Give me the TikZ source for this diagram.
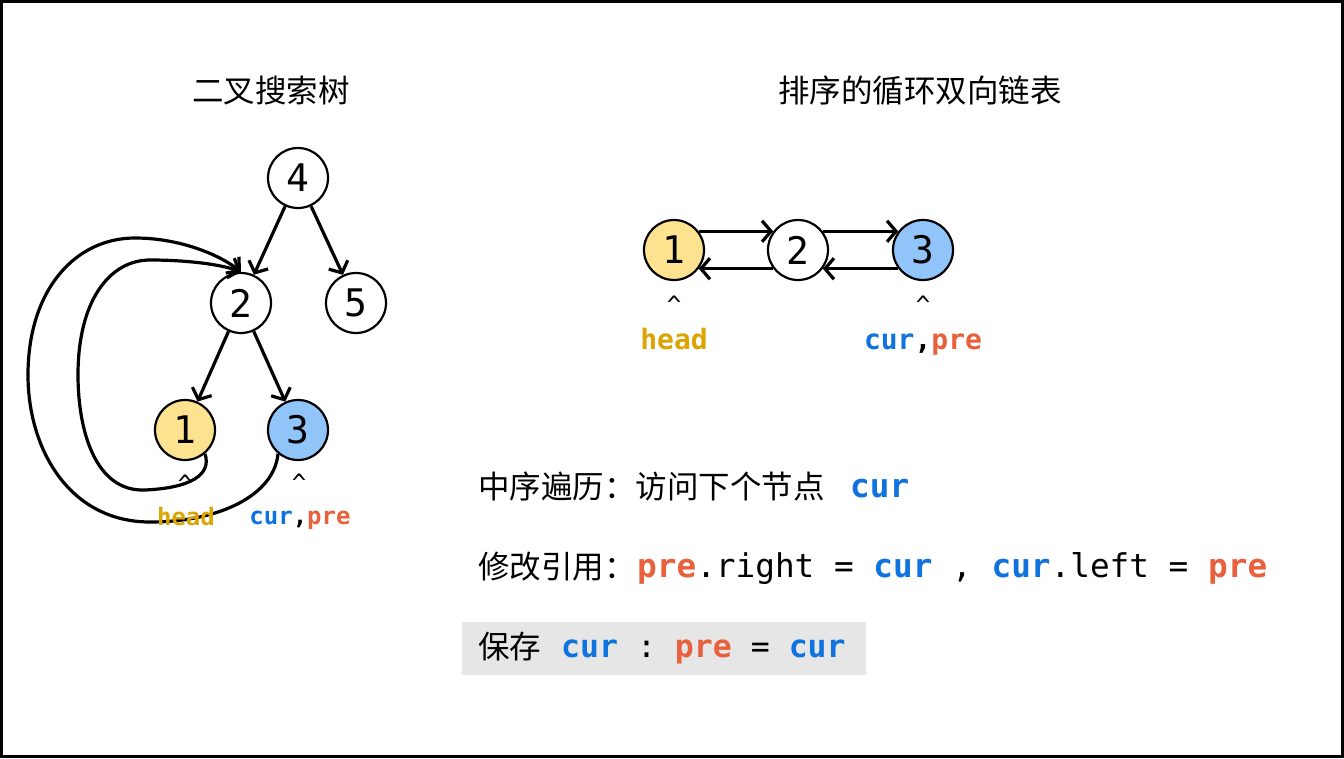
\documentclass[tikz,border=0pt]{standalone}
\usepackage{fontspec}
\setmainfont{Noto Sans CJK SC}
\setmonofont{DejaVu Sans Mono}
\usetikzlibrary{arrows.meta}
\definecolor{yel}{RGB}{253,227,143}
\definecolor{blu}{RGB}{145,197,250}
\definecolor{headc}{RGB}{219,164,0}
\definecolor{curc}{RGB}{14,115,222}
\definecolor{prec}{RGB}{232,96,60}
\definecolor{boxg}{RGB}{230,230,230}
\newcommand{\hd}{\textcolor{headc}{head}}
\newcommand{\cu}{\textcolor{curc}{cur}}
\newcommand{\pr}{\textcolor{prec}{pre}}
\tikzset{
  num/.style={circle, draw=black, line width=2.2pt, minimum size=60pt, inner sep=0pt, fill=white,
    font=\ttfamily\fontsize{38}{38}\selectfont},
  link/.style={line width=3.2pt, -{Straight Barb[length=9pt,width=21pt]}},
  zh/.style={font=\fontsize{31.5}{36}\selectfont, inner sep=0pt},
  code/.style={font=\ttfamily\fontsize{32.7}{36}\selectfont, inner sep=0pt},
  lblbig/.style={font=\ttfamily\bfseries\fontsize{28}{30}\selectfont, inner sep=0pt, anchor=base},
  lblsmall/.style={font=\ttfamily\bfseries\fontsize{24}{26}\selectfont, inner sep=0pt, anchor=base},
  caret/.style={font=\ttfamily\fontsize{24}{26}\selectfont, inner sep=0pt, anchor=base},
}
\begin{document}
\begin{tikzpicture}[x=1pt,y=-1pt]
\useasboundingbox (0,0) rectangle (1344,758);
\fill[white] (0,0) rectangle (1344,758);
\draw[line width=2.6pt] (1.3,1.3) rectangle (1342.7,756.7);

% titles
\node[zh] (t1) at (271,91) {二叉搜索树};
\node[zh] (t2) at (920,91) {排序的循环双向链表};

% tree
\node[num] (n4) at (298,178) {4};
\node[num] (n2) at (241,303) {2};
\node[num] (n5) at (356,303) {5};
\node[num, fill=yel] (n1) at (185,430) {1};
\node[num, fill=blu] (n3) at (298,430) {3};
\draw[link] (n4) -- (n2);
\draw[link] (n4) -- (n5);
\draw[link] (n2) -- (n1);
\draw[link] (n2) -- (n3);

\draw[link] (n1.-50) .. controls (212,475) and (190,488) .. (145,490)
  .. controls (95,492) and (78,430) .. (78,375)
  .. controls (78,300) and (110,260) .. (150,260)
  .. controls (185,260) and (220,264) .. (n2.north);
\draw[link] (n3.-130) .. controls (274,495) and (220,522) .. (150,522)
  .. controls (70,522) and (28,450) .. (28,375)
  .. controls (28,290) and (75,238) .. (135,238)
  .. controls (180,238) and (220,255) .. (n2.north);

\node[caret] (c1) at (185,492) {\^{}};
\node[caret] (c3) at (299,491) {\^{}};
\node[lblsmall] (h1) at (186,525) {\hd};
\node[lblsmall] (p1) at (300,524) {\cu,\pr};

% list
\node[num, fill=yel] (l1) at (674,250) {1};
\node[num] (l2) at (798,250) {2};
\node[num, fill=blu] (l3) at (923,250) {3};
\draw[link] (l1.37) -- (l2.143);
\draw[link] (l2.-143) -- (l1.-37);
\draw[link] (l2.37) -- (l3.143);
\draw[link] (l3.-143) -- (l2.-37);
\node[caret] (c4) at (674,313) {\^{}};
\node[caret] (c5) at (923,313) {\^{}};
\node[lblbig] (h2) at (674,349) {\hd};
\node[lblbig] (p2) at (923,349) {\cu,\pr};

% text lines
\node[zh, anchor=base west] (a1) at (478,498) {中序遍历：访问下个节点};
\node[code, anchor=base west] (a2) at (850,497) {\textbf{\cu}};
\node[zh, anchor=base west] (b1) at (478,578) {修改引用：};
\node[code, anchor=base west] (b2) at (637,577) {\textbf{\pr}.right = \textbf{\cu} , \textbf{\cu}.left = \textbf{\pr}};
\fill[boxg] (462,622) rectangle (866,675);
\node[zh, anchor=base west] (s1) at (478,658) {保存};
\node[code, font=\ttfamily\fontsize{31.5}{36}\selectfont, anchor=base west] (s2) at (561,657) {\textbf{\cu} : \textbf{\pr} = \textbf{\cu}};
\end{tikzpicture}
\end{document}
